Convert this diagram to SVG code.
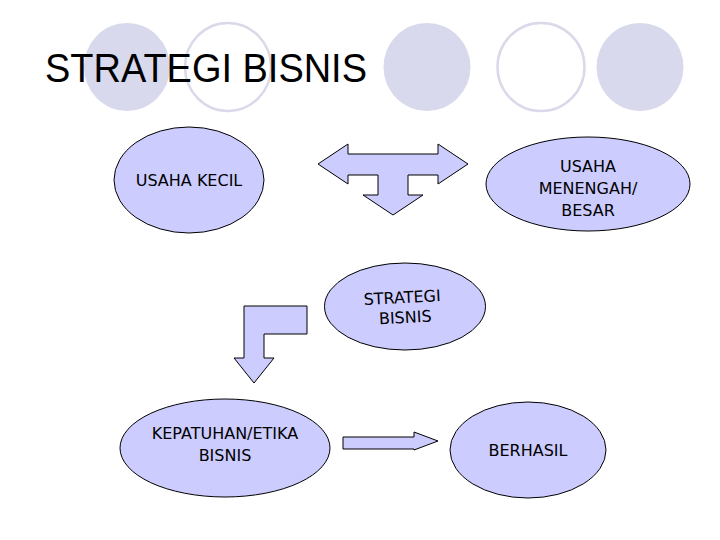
<svg xmlns="http://www.w3.org/2000/svg" width="720" height="540" viewBox="0 0 720 540">
<style>
.deco-f{fill:#d9d9ee;stroke:none}
.deco-o{fill:none;stroke:#d9d9ea;stroke-width:2.5}
.node{fill:#ccccff;stroke:#000;stroke-width:1}
.arrow{fill:#ccccff;stroke:#000;stroke-width:1;stroke-linejoin:miter}
.lbl{font-family:"DejaVu Sans",Verdana,sans-serif;font-size:16px;fill:#000;text-anchor:middle}
.title{font-family:"Liberation Sans",Arial,sans-serif;font-size:41px;fill:#000}
</style>
<rect width="720" height="540" fill="#fff"/>
<g id="decor">
<ellipse class="deco-f" cx="127" cy="67" rx="43" ry="44"/>
<ellipse class="deco-o" cx="228" cy="67" rx="43" ry="44"/>
<ellipse class="deco-f" cx="427" cy="67" rx="43.5" ry="44"/>
<ellipse class="deco-o" cx="541" cy="67" rx="43.5" ry="44"/>
<ellipse class="deco-f" cx="640" cy="67" rx="43.5" ry="44"/>
</g>
<text class="title" x="45" y="82" textLength="322" lengthAdjust="spacingAndGlyphs">STRATEGI BISNIS</text>
<g id="connectors">
<polygon class="arrow" points="318,164 348,144 348,154 438,154 438,144 468,164 438,184 438,175 408,175 408,195 423,195 393,215 363,195 378,195 378,175 348,175 348,184"/>
<polygon class="arrow" points="244,306 307,306 307,334 264,334 264,358 274,358 254,383 234,358 244,358"/>
<polygon class="arrow" points="343,437 414,437 414,432 438,441 414,450 414,449 343,449"/>
</g>
<g id="usaha-kecil">
<ellipse class="node" cx="189" cy="180" rx="75" ry="53"/>
<text class="lbl" x="189" y="186">USAHA KECIL</text>
</g>
<g id="usaha-menengah">
<ellipse class="node" cx="588" cy="184" rx="102" ry="47"/>
<text class="lbl" x="588" y="172">USAHA</text>
<text class="lbl" x="588" y="194">MENENGAH/</text>
<text class="lbl" x="588" y="216">BESAR</text>
</g>
<g id="strategi-bisnis">
<ellipse class="node" cx="405" cy="306.5" rx="80.5" ry="43.5"/>
<g transform="rotate(-3 404 313)">
<text class="lbl" x="403" y="303" font-size="15.5">STRATEGI</text>
<text class="lbl" x="405" y="323">BISNIS</text>
</g>
</g>
<g id="kepatuhan">
<ellipse class="node" cx="225" cy="448" rx="105" ry="49"/>
<text class="lbl" x="225" y="438.5" font-size="15.5">KEPATUHAN/ETIKA</text>
<text class="lbl" x="225" y="461" font-size="15.5">BISNIS</text>
</g>
<g id="berhasil">
<ellipse class="node" cx="528" cy="450" rx="78" ry="48"/>
<text class="lbl" x="528" y="456">BERHASIL</text>
</g>
</svg>
